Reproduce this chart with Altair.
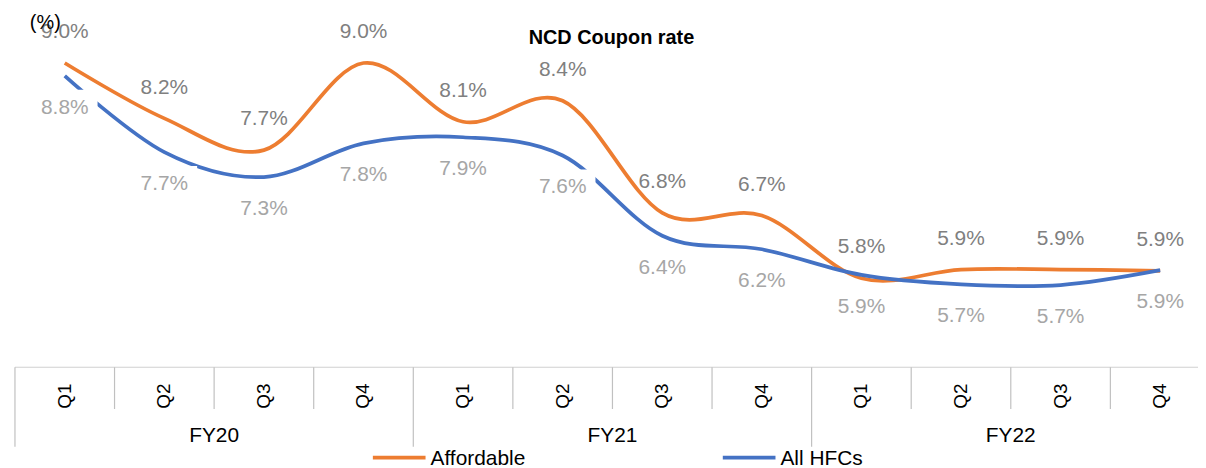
import altair as alt
import pandas as pd

quarters = ["Q1", "Q2", "Q3", "Q4"] * 3
fiscal_years = ["FY20", "FY21", "FY22"]
affordable = [9.00, 8.18, 7.71, 9.00, 8.13, 8.44, 6.78, 6.74, 5.81, 5.94, 5.94, 5.92]
all_hfcs = [8.81, 7.68, 7.31, 7.81, 7.90, 7.63, 6.44, 6.24, 5.86, 5.72, 5.71, 5.93]
series_names = ["Affordable", "All HFCs"]
series_colors = ["#ED7D31", "#4472C4"]

rows = []
for name, vals in zip(series_names, [affordable, all_hfcs]):
    for i, v in enumerate(vals):
        rows.append({"idx": i, "series": name, "value": v, "label": f"{v:.1f}%"})
df = pd.DataFrame(rows)

qdf = pd.DataFrame({"idx": list(range(12)), "q": quarters})
fydf = pd.DataFrame({"idx": [1.5, 5.5, 9.5], "fy": fiscal_years})
sep_minor = pd.DataFrame({"idx": [i + 0.5 for i in range(11) if (i + 1) % 4 != 0]})
sep_major = pd.DataFrame({"idx": [-0.5, 3.5, 7.5]})
border = pd.DataFrame({"a": [-0.5], "b": [11.38]})

xscale = alt.Scale(domain=[-0.5, 11.38], nice=False, zero=False)
yscale = alt.Scale(domain=[4.4919, 9.6924], nice=False, zero=False)
cscale = alt.Scale(domain=series_names, range=series_colors)

FONT = "Liberation Sans"


def X(field):
    return alt.X(field, scale=xscale, axis=None)


def Y(field):
    return alt.Y(field, scale=yscale, axis=None)


lines = alt.Chart(df).mark_line(interpolate="cardinal", strokeWidth=3.75).encode(
    x=X("idx:Q"),
    y=Y("value:Q"),
    color=alt.Color("series:N", scale=cscale, legend=None),
    detail="series:N",
)

# white label boxes behind the "All HFCs" labels (as in the source chart)
box_path = "M-1,-0.545L1,-0.545L1,0.545L-1,0.545Z"
lab_box = alt.Chart(df).transform_filter(alt.datum.series == "All HFCs").mark_point(
    shape=box_path, size=66 * 66, filled=True, fill="white", opacity=1, yOffset=32
).encode(x=X("idx:Q"), y=Y("value:Q"))

lab_aff = alt.Chart(df).transform_filter(alt.datum.series == "Affordable").mark_text(
    dy=-31, fontSize=21, color="#808080", font=FONT
).encode(x=X("idx:Q"), y=Y("value:Q"), text="label:N")

lab_all = alt.Chart(df).transform_filter(alt.datum.series == "All HFCs").mark_text(
    dy=32, fontSize=21, color="#a6a6a6", font=FONT
).encode(x=X("idx:Q"), y=Y("value:Q"), text="label:N")

top_border = alt.Chart(border).mark_rule(color="#d0d0d0", strokeWidth=1.2).encode(
    x=X("a:Q"), x2=alt.X2("b"), y=alt.value(353)
)
minor = alt.Chart(sep_minor).mark_rule(color="#c0c0c0", strokeWidth=1.2).encode(
    x=X("idx:Q"), y=alt.value(353), y2=alt.value(395)
)
major = alt.Chart(sep_major).mark_rule(color="#c0c0c0", strokeWidth=1.2).encode(
    x=X("idx:Q"), y=alt.value(353), y2=alt.value(433)
)
qlabels = alt.Chart(qdf).mark_text(angle=270, fontSize=19, color="#000000", font=FONT).encode(
    x=X("idx:Q"), y=alt.value(382), text="q:N"
)
fylabels = alt.Chart(fydf).mark_text(fontSize=21, color="#000000", font=FONT).encode(
    x=X("idx:Q"), y=alt.value(422), text="fy:N"
)

title = alt.Chart(pd.DataFrame({"t": ["NCD Coupon rate"]})).mark_text(
    fontSize=20, fontWeight="bold", color="#000000", font=FONT
).encode(x=alt.value(600), y=alt.value(22), text="t:N")
unit = alt.Chart(pd.DataFrame({"t": ["(%)"]})).mark_text(
    fontSize=20, color="#000000", font=FONT, align="left"
).encode(x=alt.value(15), y=alt.value(7), text="t:N")

legend_layers = []
for name, color, x0 in zip(series_names, series_colors, [360, 712]):
    ldf = pd.DataFrame({"series": [name]})
    legend_layers.append(
        alt.Chart(ldf).mark_rule(strokeWidth=3.75, color=color).encode(
            x=alt.value(x0), x2=alt.value(x0 + 53), y=alt.value(444)
        )
    )
    legend_layers.append(
        alt.Chart(ldf).mark_text(
            fontSize=21, color="#000000", font=FONT, align="left", baseline="middle"
        ).encode(x=alt.value(x0 + 58), y=alt.value(445), text="series:N")
    )

chart = alt.layer(
    top_border, minor, major, qlabels, fylabels, lines, lab_box, lab_aff, lab_all, title, unit,
    *legend_layers
).properties(
    width=1190,
    height=353,
    autosize=alt.AutoSizeParams(type="none"),
    padding={"left": 7, "top": 7, "right": 0, "bottom": 100},
).configure_view(stroke=None)

chart.save("out.html", embed_options={"renderer": "svg", "actions": False})
